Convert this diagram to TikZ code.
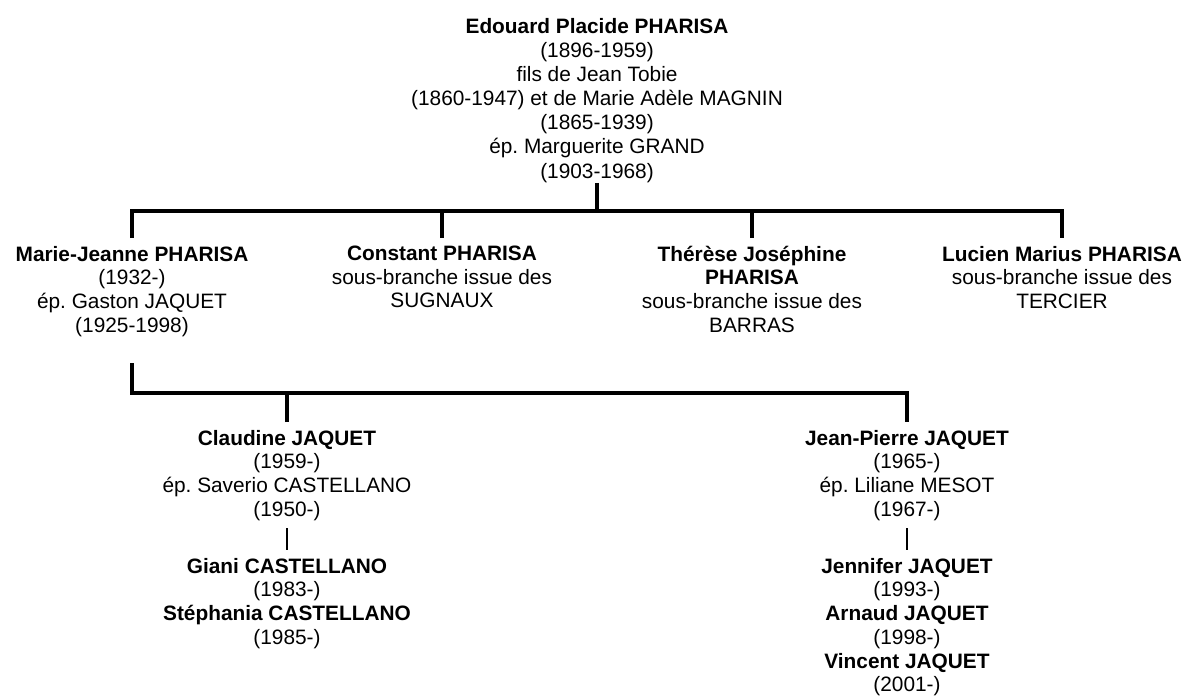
\documentclass[tikz,border=0pt]{standalone}
\usepackage{fontspec}
\setmainfont{Liberation Sans}
\frenchspacing
\begin{document}
\begin{tikzpicture}[x=0.48pt,y=-0.48pt,
  main/.style={line width=1.7pt, black},
  thin/.style={line width=0.95pt, black},
  person/.style={align=center, anchor=north, inner xsep=0pt, inner ysep=3.5pt,
    font=\frenchspacing\fontsize{10}{11.4}\selectfont, text=black},
  rootp/.style={person, inner ysep=0pt, font=\frenchspacing\fontsize{10}{11.6}\selectfont}]
\useasboundingbox (0,0) rectangle (1186,697);

\node[rootp] (root) at (597,17.5) {\textbf{Edouard Placide PHARISA}\\(1896-1959)\\fils de Jean Tobie\\(1860-1947) et de Marie Adèle MAGNIN\\(1865-1939)\\ép. Marguerite GRAND\\(1903-1968)};

\node[person] (mj) at (132,238.2) {\textbf{Marie-Jeanne PHARISA}\\(1932-)\\ép. Gaston JAQUET\\(1925-1998)};
\node[person] (constant) at (442,238.2) {\textbf{Constant PHARISA}\\sous-branche issue des\\SUGNAUX};
\node[person] (therese) at (752,238.2) {\textbf{Thérèse Joséphine}\\\textbf{PHARISA}\\sous-branche issue des\\BARRAS};
\node[person] (lucien) at (1062,238.2) {\textbf{Lucien Marius PHARISA}\\sous-branche issue des\\TERCIER};

\node[person] (claudine) at (287,422.2) {\textbf{Claudine JAQUET}\\(1959-)\\ép. Saverio CASTELLANO\\(1950-)};
\node[person] (jp) at (907,422.2) {\textbf{Jean-Pierre JAQUET}\\(1965-)\\ép. Liliane MESOT\\(1967-)};

\node[person] (giani) at (287,550.2) {\textbf{Giani CASTELLANO}\\(1983-)\\\textbf{Stéphania CASTELLANO}\\(1985-)};
\node[person] (jennifer) at (907,550.2) {\textbf{Jennifer JAQUET}\\(1993-)\\\textbf{Arnaud JAQUET}\\(1998-)\\\textbf{Vincent JAQUET}\\(2001-)};

% first generation bar
\coordinate (t) at (597,211);
\draw[main] (root.south) -- (t);
\draw[main] (mj.north) -- (mj.north |- t) -| (lucien.north);
\draw[main] (constant.north) -- (constant.north |- t);
\draw[main] (therese.north) -- (therese.north |- t);

% second generation bar
\coordinate (mjd) at (132,363);
\coordinate (b2) at (132,393);
\draw[main] (mjd) -- (b2) -| (jp.north);
\draw[main] (claudine.north) -- (claudine.north |- b2);

% grandchildren
\draw[thin] (claudine.south) -- (giani.north);
\draw[thin] (jp.south) -- (jennifer.north);
\end{tikzpicture}
\end{document}
